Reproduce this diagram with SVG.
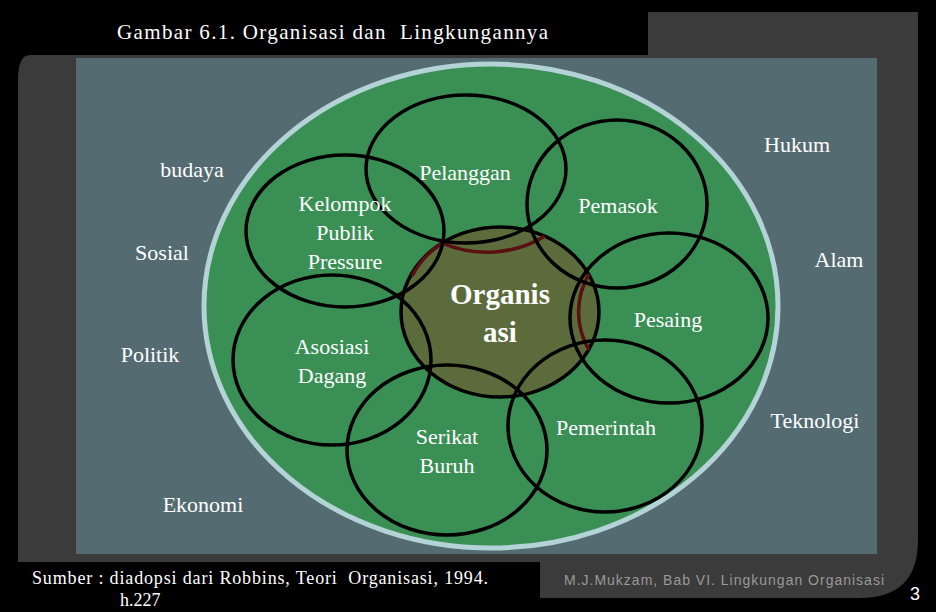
<svg xmlns="http://www.w3.org/2000/svg" width="936" height="612" viewBox="0 0 936 612">
<style>
.t{font-family:"Liberation Serif",serif;font-size:22px;fill:#fff;text-anchor:middle}
.c{fill:none;stroke:#000;stroke-width:3.5}
</style>
<rect width="936" height="612" fill="#000"/>
<path d="M30 55 H648 V12 H918 V540 Q918 598 860 598 H30 Q18 598 18 570 V80 Q18 55 30 55Z" fill="#3b3b3b"/>
<rect x="0" y="0" width="648" height="55" fill="#000"/>
<rect x="0" y="562" width="540" height="50" fill="#000"/>
<rect x="76" y="58" width="801" height="496" fill="#546b72"/>
<g id="env"><ellipse cx="491" cy="306" rx="287" ry="242" fill="#3a8f55" stroke="#b3d3d6" stroke-width="5"/></g>
<g id="org"><ellipse cx="500" cy="312" rx="99" ry="85" fill="#5c6b3c" stroke="#000" stroke-width="3.5"/>
<path d="M412 276 A99 85 0 0 1 442 243 M442 243 A99 85 0 0 0 545 236" fill="none" stroke="#5a1010" stroke-width="3.5"/>
<path d="M589 274 A99 85 0 0 0 589 350" fill="none" stroke="#5a1010" stroke-width="3.5"/>
<text x="500" y="304" class="t" style="font-weight:bold;font-size:29px">Organis</text>
<text x="500" y="342" class="t" style="font-weight:bold;font-size:29px">asi</text></g>
<g id="pelanggan"><ellipse class="c" cx="466" cy="169" rx="100" ry="74"/><text x="465" y="180" class="t">Pelanggan</text></g>
<g id="pemasok"><ellipse class="c" cx="617" cy="204" rx="90" ry="84"/><text x="618" y="213" class="t">Pemasok</text></g>
<g id="kelompok"><ellipse class="c" cx="345" cy="231" rx="99" ry="76"/><text x="345" y="211" class="t">Kelompok</text><text x="345" y="240" class="t">Publik</text><text x="345" y="269" class="t">Pressure</text></g>
<g id="pesaing"><ellipse class="c" cx="669" cy="318" rx="99" ry="85"/><text x="668" y="327" class="t">Pesaing</text></g>
<g id="asosiasi"><ellipse class="c" cx="332" cy="360" rx="99" ry="85"/><text x="332" y="354" class="t">Asosiasi</text><text x="332" y="383" class="t">Dagang</text></g>
<g id="serikat"><ellipse class="c" cx="447" cy="450" rx="100" ry="85"/><text x="447" y="444" class="t">Serikat</text><text x="447" y="473" class="t">Buruh</text></g>
<g id="pemerintah"><ellipse class="c" cx="605" cy="426" rx="97" ry="86"/><text x="606" y="435" class="t">Pemerintah</text></g>
<g id="labels">
<text x="192" y="177" class="t">budaya</text>
<text x="162" y="260" class="t">Sosial</text>
<text x="150" y="362" class="t">Politik</text>
<text x="203" y="512" class="t">Ekonomi</text>
<text x="797" y="152" class="t">Hukum</text>
<text x="839" y="267" class="t">Alam</text>
<text x="815" y="428" class="t">Teknologi</text>
</g>
<text x="117" y="39" xml:space="preserve" textLength="431" style="font-family:'Liberation Serif',serif;font-size:21px;fill:#fff">Gambar 6.1. Organisasi dan  Lingkungannya</text>
<text x="32" y="584" xml:space="preserve" textLength="456" style="font-family:'Liberation Serif',serif;font-size:18px;fill:#fff">Sumber : diadopsi dari Robbins, Teori  Organisasi, 1994.</text>
<text x="120" y="606" style="font-family:'Liberation Serif',serif;font-size:18px;fill:#fff">h.227</text>
<text x="564" y="585" textLength="320" style="font-family:'Liberation Sans',sans-serif;font-size:14px;fill:#999">M.J.Mukzam, Bab VI. Lingkungan Organisasi</text>
<text x="910" y="600" style="font-family:'Liberation Sans',sans-serif;font-size:18px;fill:#fff">3</text>
</svg>
